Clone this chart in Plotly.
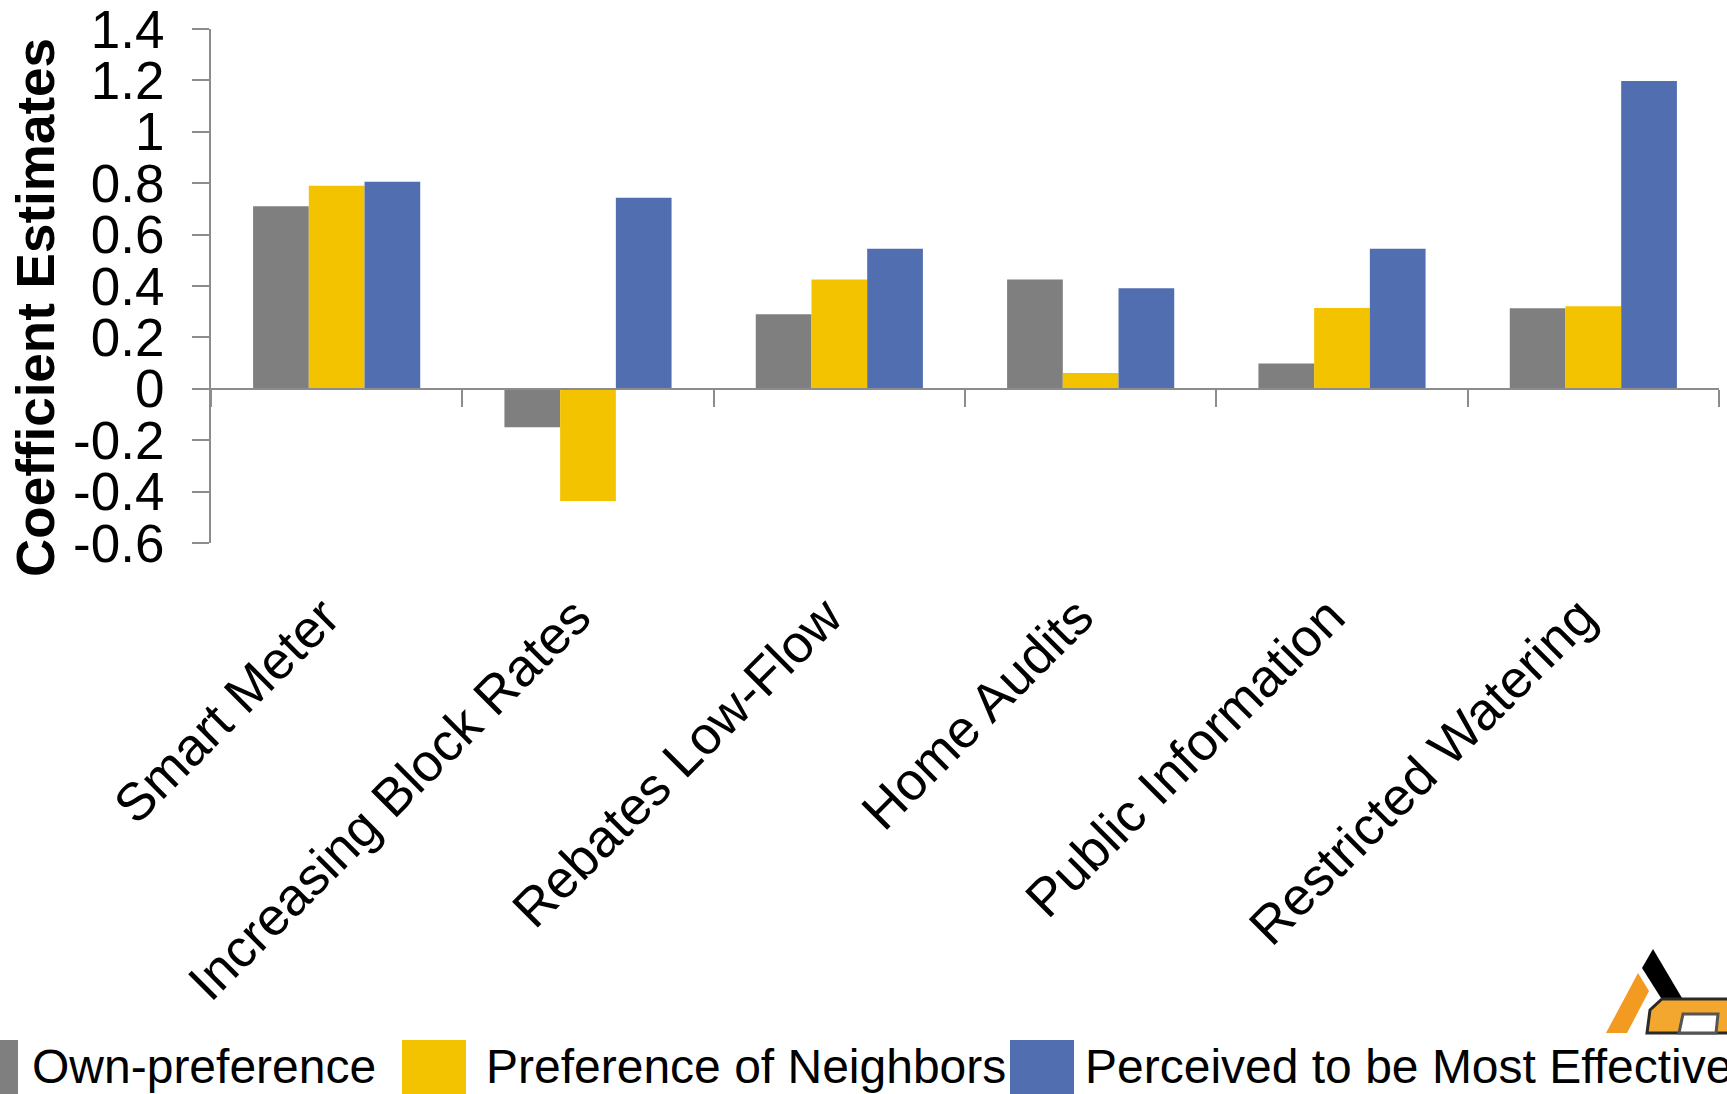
import plotly.graph_objects as go

# ---- data ----
categories = ["Smart Meter", "Increasing Block Rates", "Rebates Low-Flow",
              "Home Audits", "Public Information", "Restricted Watering"]
own_preference = [0.71, -0.15, 0.29, 0.425, 0.098, 0.313]
neighbors_pref = [0.79, -0.437, 0.425, 0.061, 0.314, 0.321]
most_effective = [0.806, 0.743, 0.545, 0.391, 0.545, 1.198]
series_names = ["Own-preference", "Preference of Neighbors", "Perceived to be Most Effective"]
series_colors = ["#7F7F7F", "#F3C300", "#516EB0"]
y_tickvals = [-0.6, -0.4, -0.2, 0, 0.2, 0.4, 0.6, 0.8, 1.0, 1.2, 1.4]
y_ticktext = ["-0.6", "-0.4", "-0.2", "0", "0.2", "0.4", "0.6", "0.8", "1", "1.2", "1.4"]
boundary_ticks = [0, 1, 2, 3, 4, 5, 6]

FONT = "Liberation Sans, Arial, sans-serif"
AXIS_GRAY = "#8C8C8C"

# plot area in pixels
W, H = 1727, 1094
L, R, T, B = 211, 1719, 29, 543


def px(x):
    return (x - L) / (R - L)


def py(y):
    return (B - y) / (B - T)


fig = go.Figure()
for name, vals, col in zip(series_names, [own_preference, neighbors_pref, most_effective], series_colors):
    fig.add_trace(go.Bar(x=categories, y=vals, name=name, marker=dict(color=col, line=dict(width=0)),
                         showlegend=False))

# invisible trace to anchor the zero-line axis
fig.add_trace(go.Scatter(x=[0, 6], y=[0, 0], xaxis="x2", yaxis="y", mode="lines",
                         line=dict(width=0, color="rgba(0,0,0,0)"), showlegend=False, hoverinfo="skip"))

fig.update_layout(
    width=W, height=H,
    margin=dict(l=L, r=W - R, t=T, b=H - B, pad=0, autoexpand=False),
    paper_bgcolor="white", plot_bgcolor="white",
    barmode="group", bargap=0.335, bargroupgap=0,
    font=dict(family=FONT, color="black"),
    xaxis=dict(type="category", categoryorder="array", categoryarray=categories,
               showline=False, ticks="", showgrid=False, zeroline=False, automargin=False,
               tickangle=-45, tickfont=dict(size=53, color="black"), range=[-0.5, 5.5],
               ticklabelstandoff=31, ticklabelshift=-13, ticklabeloverflow="allow"),
    xaxis2=dict(overlaying="x", anchor="free", position=0.3, automargin=False,
                range=[0, 6], tickvals=boundary_ticks, ticks="outside", ticklen=17, tickwidth=2,
                tickcolor=AXIS_GRAY, showline=True, linecolor=AXIS_GRAY, linewidth=2,
                showticklabels=False, showgrid=False, zeroline=False, side="bottom"),
    yaxis=dict(range=[-0.6, 1.4], tickvals=y_tickvals, ticktext=y_ticktext, automargin=False,
               ticks="outside", ticklen=17, tickwidth=2, tickcolor=AXIS_GRAY,
               showline=True, linecolor=AXIS_GRAY, linewidth=2, showgrid=False, zeroline=False,
               tickfont=dict(size=53, color="black"), ticklabelstandoff=17,
               ticklabeloverflow="allow"),
    showlegend=False,
)

annotations = [dict(text="<b>Coefficient Estimates</b>", textangle=-90, xref="paper", yref="paper",
                    x=px(35), y=py(308), xanchor="center", yanchor="middle", showarrow=False,
                    font=dict(size=53, color="black", family=FONT))]
shapes = []

# custom legend (large swatches as in the original)
sw_left = [-46, 402, 1010]
txt_left = [30, 484, 1083]
for name, col, sx, tx in zip(series_names, series_colors, sw_left, txt_left):
    shapes.append(dict(type="rect", xref="paper", yref="paper", x0=px(sx), x1=px(sx + 64),
                       y0=py(1100), y1=py(1040), fillcolor=col, line=dict(width=0), layer="above"))
    annotations.append(dict(text=name, xref="paper", yref="paper", x=px(tx), y=py(1066),
                            xanchor="left", yanchor="middle", showarrow=False,
                            font=dict(size=48, color="black", family=FONT)))

# logo fragment at bottom right
def path(pts):
    return "M " + " L ".join(f"{px(a)},{py(b)}" for a, b in pts) + " Z"

shapes.append(dict(type="path", xref="paper", yref="paper",
                   path=path([(1653, 949), (1682, 998), (1661, 998), (1642, 968)]),
                   fillcolor="black", line=dict(width=0), layer="above"))
shapes.append(dict(type="path", xref="paper", yref="paper",
                   path=path([(1638, 973), (1649, 991), (1627, 1033), (1606, 1033)]),
                   fillcolor="#F39A21", line=dict(width=0), layer="above"))
shapes.append(dict(type="path", xref="paper", yref="paper",
                   path=path([(1662, 999), (1730, 999), (1730, 1033), (1647, 1033), (1650, 1010)]),
                   fillcolor="#F3A72E", line=dict(color="#2a2a2a", width=3), layer="above"))
shapes.append(dict(type="path", xref="paper", yref="paper",
                   path=path([(1683, 1014), (1718, 1014), (1716, 1033), (1679, 1033)]),
                   fillcolor="white", line=dict(color="#555555", width=3), layer="above"))

fig.update_layout(annotations=annotations, shapes=shapes)
fig.write_html("out.html")
